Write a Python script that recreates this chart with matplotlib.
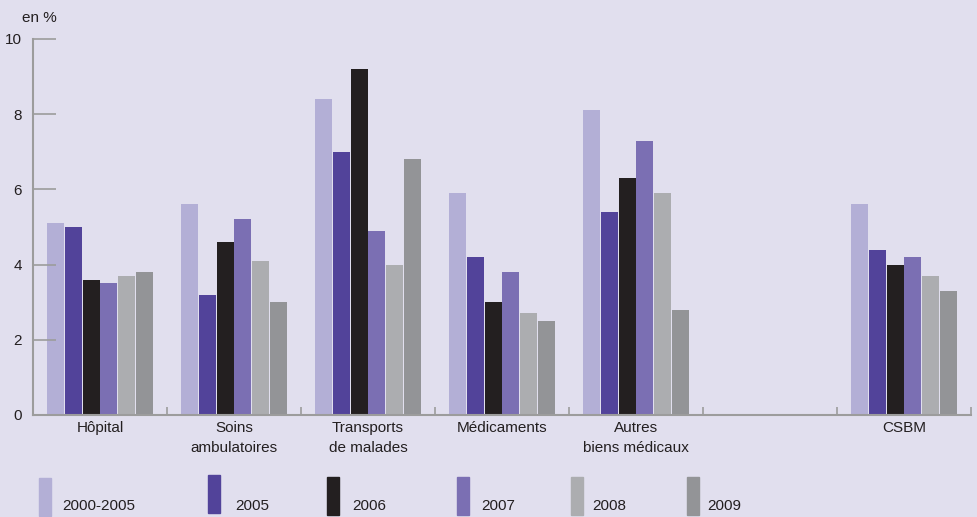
import matplotlib.pyplot as plt
import numpy as np

categories = ['Hôpital', 'Soins\nambulatoires', 'Transports\nde malades', 'Médicaments',
              'Autres\nbiens médicaux', '', 'CSBM']
series = ['2000-2005', '2005', '2006', '2007', '2008', '2009']
values = {
    '2000-2005': [5.1, 5.6, 8.4, 5.9, 8.1, np.nan, 5.6],
    '2005':      [5.0, 3.2, 7.0, 4.2, 5.4, np.nan, 4.4],
    '2006':      [3.6, 4.6, 9.2, 3.0, 6.3, np.nan, 4.0],
    '2007':      [3.5, 5.2, 4.9, 3.8, 7.3, np.nan, 4.2],
    '2008':      [3.7, 4.1, 4.0, 2.7, 5.9, np.nan, 3.7],
    '2009':      [3.8, 3.0, 6.8, 2.5, 2.8, np.nan, 3.3],
}
colors = ['#b3afd6', '#52439a', '#231f20', '#7b6fb3', '#acadb0', '#939497']

bg = '#e1dfee'
fam = ['Liberation Sans Narrow', 'Liberation Sans', 'DejaVu Sans']
plt.rcParams['font.family'] = fam
plt.rcParams['font.size'] = 11

fig = plt.figure(figsize=(9.77, 5.17), dpi=100, facecolor=bg)
ax = fig.add_axes([0.0338, 0.1973, 0.9601, 0.7273])
ax.set_facecolor(bg)

x = np.arange(len(categories)) + 0.5
step = 0.132
for i, s in enumerate(series):
    ax.bar(x + (i - 2.5) * step, values[s], width=step * 0.95, color=colors[i], label=s)

ax.set_xlim(0, len(categories))
ax.set_ylim(0, 10)
ax.set_yticks([0, 2, 4, 6, 8, 10])
ax.tick_params(axis='y', direction='in', length=16.5, width=1.2, color='#9c9c9c',
               pad=8, labelcolor='#231f20')
ax.set_xticks(x)
ax.set_xticklabels(categories, color='#231f20', linespacing=1.55)
ax.tick_params(axis='x', length=0, pad=4)
ax.set_xticks(np.arange(len(categories) + 1), minor=True)
ax.tick_params(axis='x', which='minor', direction='in', length=6, width=1.2, color='#9c9c9c')

for sp in ['top', 'right']:
    ax.spines[sp].set_visible(False)
for sp in ['left', 'bottom']:
    ax.spines[sp].set_color('#9c9c9c')
    ax.spines[sp].set_linewidth(1.5)

fig.text(22 / 977, 1 - 18 / 517, 'en %', ha='left', va='center', color='#231f20')

# legend drawn as vertical swatches with labels at their bottom right
leg_x = [39, 208, 327, 457, 571, 687]
leg_top = [478, 475, 477, 477, 477, 477]
txt_x = [62, 235, 352, 481, 592, 707]
for i, s in enumerate(series):
    fig.patches.append(plt.Rectangle((leg_x[i] / 977, 1 - (leg_top[i] + 38) / 517),
                                     12 / 977, 38 / 517, transform=fig.transFigure,
                                     color=colors[i]))
    fig.text(txt_x[i] / 977, 1 - 506 / 517, s, ha='left', va='center', color='#231f20')

fig.savefig('out.png', dpi=100, facecolor=bg)
